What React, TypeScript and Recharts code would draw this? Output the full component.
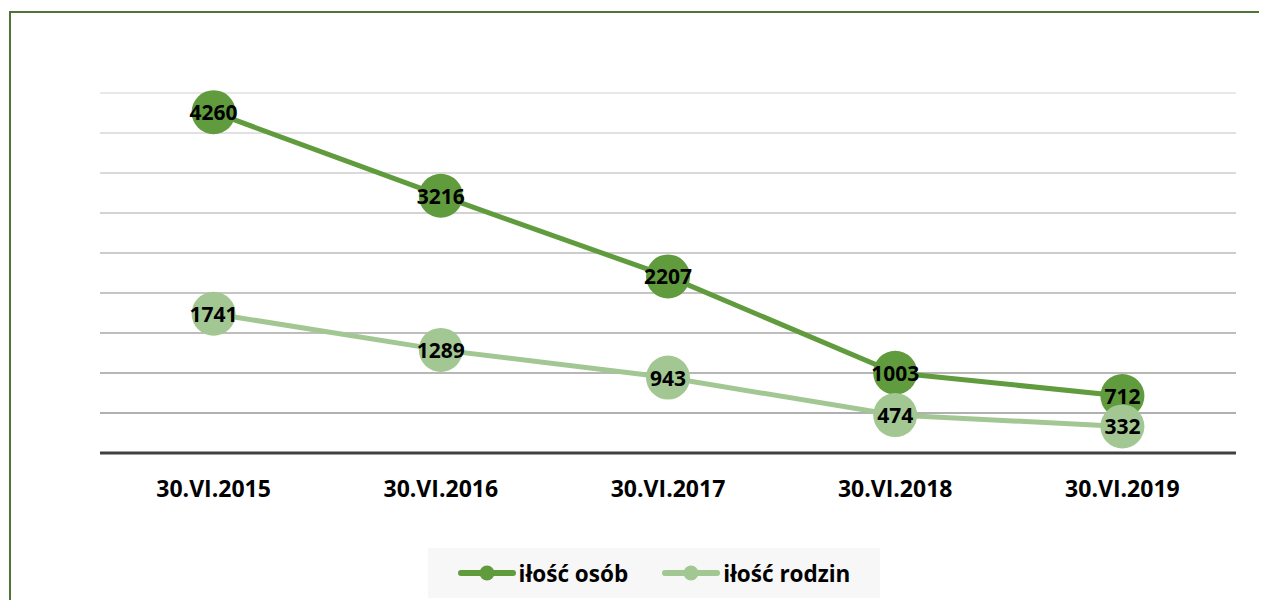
import React from 'react';
import {
  LineChart,
  Line,
  XAxis,
  YAxis,
  CartesianGrid,
  Legend,
  LabelList
} from 'recharts';

const categories = ['30.VI.2015', '30.VI.2016', '30.VI.2017', '30.VI.2018', '30.VI.2019'];
const osob = [4260, 3216, 2207, 1003, 712];
const rodzin = [1741, 1289, 943, 474, 332];
const yTicks = [0, 500, 1000, 1500, 2000, 2500, 3000, 3500, 4000, 4500];

const seriesNames = { osob: 'iłość osób', rodzin: 'iłość rodzin' };
const DARK = '#609b3e';
const LIGHT = '#a3c793';
const FONT = '"Open Sans", "DejaVu Sans", sans-serif';

const data = categories.map((c, i) => ({ name: c, osob: osob[i], rodzin: rodzin[i] }));

// value label sitting in the middle of the big round marker
const renderLabel = (props: any) => {
  const { x, y, value } = props;
  return (
    <text
      x={x}
      y={y}
      textAnchor="middle"
      dominantBaseline="central"
      fontFamily={FONT}
      fontWeight={700}
      fontSize={21}
      fill="#000"
    >
      {value}
    </text>
  );
};

const LegendIcon = ({ color }: { color: string }) => (
  <svg width={58} height={16} style={{ display: 'block' }}>
    <line x1={3} y1={8} x2={55} y2={8} stroke={color} strokeWidth={6} strokeLinecap="round" />
    <circle cx={29} cy={8} r={7.5} fill={color} />
  </svg>
);

const renderLegend = () => (
  <div
    style={{
      height: 50,
      background: '#f7f7f7',
      display: 'flex',
      alignItems: 'center',
      justifyContent: 'center',
      fontFamily: FONT,
      fontWeight: 700,
      fontSize: 22.5,
      color: '#000'
    }}
  >
    <LegendIcon color={DARK} />
    <span style={{ marginLeft: 3, marginRight: 34 }}>{seriesNames.osob}</span>
    <LegendIcon color={LIGHT} />
    <span style={{ marginLeft: 3 }}>{seriesNames.rodzin}</span>
  </div>
);

export default function App() {
  return (
    <div
      style={{
        position: 'relative',
        width: 1267,
        height: 608,
        margin: -8,
        overflow: 'hidden',
        background: '#fff'
      }}
    >
      {/* green frame: only the top and left edges fall inside the crop */}
      <div style={{ position: 'absolute', left: 9, top: 11, width: 1258, height: 2, background: '#4f7536' }} />
      <div style={{ position: 'absolute', left: 9, top: 11, width: 2, height: 597, background: '#4f7536' }} />
      <div style={{ position: 'absolute', left: 0, top: 0 }}>
        <LineChart
          width={1267}
          height={608}
          data={data}
          margin={{ top: 93, right: 31, left: 100, bottom: 10 }}
        >
          <defs>
            <linearGradient id="gridGrad" gradientUnits="userSpaceOnUse" x1="0" y1="93" x2="0" y2="453">
              <stop offset="0%" stopColor="#e0e0e0" />
              <stop offset="100%" stopColor="#8c8c8c" />
            </linearGradient>
          </defs>
          <CartesianGrid vertical={false} stroke="url(#gridGrad)" strokeWidth={1.5} />
          <XAxis
            dataKey="name"
            height={95}
            padding={{ left: 113.6, right: 113.6 }}
            axisLine={{ stroke: '#404040', strokeWidth: 3 }}
            tickLine={false}
            tickSize={0}
            tickMargin={28}
            tick={{ fontFamily: FONT, fontWeight: 700, fontSize: 23, fill: '#000' }}
          />
          <YAxis hide domain={[0, 4500]} ticks={yTicks} />
          <Legend
            verticalAlign="bottom"
            content={renderLegend}
            wrapperStyle={{ left: 428, width: 452, bottom: 10 }}
          />
          <Line
            dataKey="osob"
            name={seriesNames.osob}
            stroke={DARK}
            strokeWidth={5}
            dot={{ r: 22, fill: DARK, stroke: 'none' }}
            activeDot={false}
            isAnimationActive={false}
          >
            <LabelList dataKey="osob" content={renderLabel} />
          </Line>
          <Line
            dataKey="rodzin"
            name={seriesNames.rodzin}
            stroke={LIGHT}
            strokeWidth={5}
            dot={{ r: 22, fill: LIGHT, stroke: 'none' }}
            activeDot={false}
            isAnimationActive={false}
          >
            <LabelList dataKey="rodzin" content={renderLabel} />
          </Line>
        </LineChart>
      </div>
    </div>
  );
}
